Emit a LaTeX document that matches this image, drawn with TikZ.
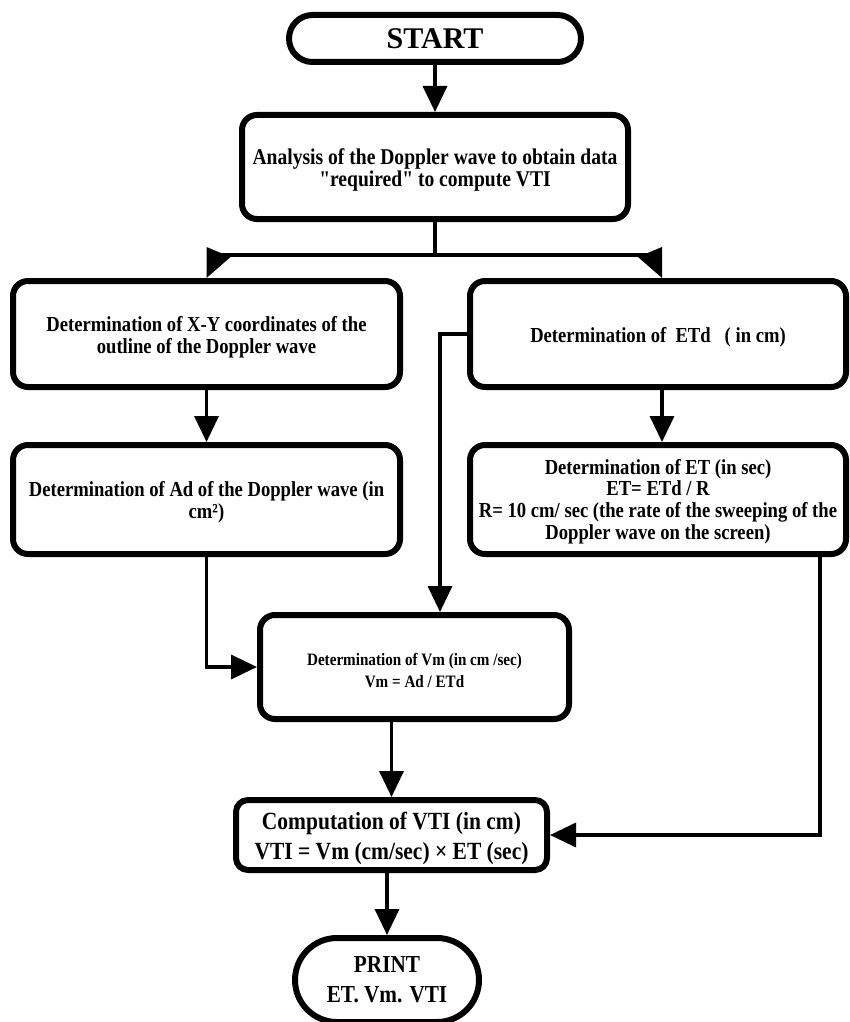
\documentclass[tikz,border=0pt]{standalone}
\usepackage{fontspec}
\setmainfont{Liberation Serif}[FakeStretch=0.87, Ligatures=TeXOff]
\newfontfamily\widefont{Liberation Serif}
\usetikzlibrary{arrows.meta}
\tikzset{
  box/.style={draw, line width=6pt, rounded corners=15pt, inner sep=0pt},
  term/.style={draw, line width=6pt, inner sep=0pt, align=center},
  lbl/.style={align=center, inner sep=0pt, yshift=-3pt},
  conn/.style={line width=3.5pt},
  arr/.style={line width=3.5pt, -{Triangle[length=26pt,width=24pt]}},
}
\begin{document}
\begin{tikzpicture}[x=1pt,y=-1pt]
\useasboundingbox (0,0) rectangle (849,1022);
\node[term, rounded corners=23.5pt, minimum width=292pt, minimum height=47pt,
  font={\widefont\bfseries\fontsize{30}{30}\selectfont}] (start) at (435,38.5) {START};
\node[box, minimum width=386pt, minimum height=104pt,
  label={[lbl, font={\bfseries\fontsize{22.5}{22}\selectfont}]center:{Analysis of the Doppler wave to obtain data\\ "required" to compute VTI}}] (analysis) at (435,167) {};
\node[box, minimum width=387pt, minimum height=106pt,
  label={[lbl, font={\bfseries\fontsize{21.4}{22}\selectfont}]center:{Determination of X-Y coordinates of the\\ outline of the Doppler wave}}] (xy) at (206.5,334) {};
\node[box, minimum width=387pt, minimum height=109pt,
  label={[lbl, font={\bfseries\fontsize{21.4}{22}\selectfont}]center:{Determination of Ad of the Doppler wave (in\\ cm²)}}] (ad) at (206.5,499.5) {};
\node[box, minimum width=376pt, minimum height=106pt,
  label={[lbl, font={\bfseries\fontsize{21.4}{22}\selectfont}]center:{Determination of\ \ ETd\ \ \ ( in cm)}}] (etd) at (658,334) {};
\node[box, minimum width=376pt, minimum height=109pt,
  label={[lbl, yshift=1pt, font={\bfseries\fontsize{21.4}{21.7}\selectfont}]center:{Determination of ET (in sec)\\ ET= ETd / R\\ R= 10 cm/ sec (the rate of the sweeping of the\\ Doppler wave on the screen)}}] (et) at (658,499.5) {};
\node[box, minimum width=309pt, minimum height=104pt,
  label={[lbl, font={\bfseries\fontsize{17.4}{22}\selectfont}]center:{Determination of Vm (in cm /sec)\\ Vm = Ad / ETd}}] (vm) at (414.5,667) {};
\node[box, rounded corners=12pt, minimum width=311pt, minimum height=70pt,
  label={[lbl, font={\bfseries\fontsize{24.7}{30}\selectfont}]center:{Computation of VTI (in cm)\\ VTI = Vm (cm/sec) × ET (sec)}}] (comp) at (391.5,835) {};
\node[term, rounded corners=42pt, minimum width=184pt, minimum height=84pt,
  font={\bfseries\fontsize{24.4}{30}\selectfont}] (print) at (387,980)
  {PRINT\\ ET. Vm. VTI};
% connectors
\draw[arr] (start) -- (analysis);
\coordinate (j) at (435,255);
\coordinate (r) at ([xshift=4pt]etd.north);
\draw[conn] (analysis.south) -- (j);
\draw[conn] (j -| xy.north) -- (j -| r);
\fill ([yshift=31pt]xy.north) -- ++(24pt,-10pt) -- (xy.north) -- cycle;
\fill ([yshift=31pt]r) -- ++(-24pt,-10pt) -- (r) -- cycle;
\draw[arr] (xy) -- (ad);
\draw[arr] ([xshift=4pt]etd.south) -- ([xshift=4pt]et.north);
\draw[arr] (ad.south) |- (vm.west);
\draw[arr] (etd.west) -| ([xshift=25.5pt]vm.north);
\draw[arr] ([xshift=162pt]et.south) |- (comp.east);
\draw[arr] (vm.south -| comp.north) -- (comp.north);
\draw[arr] (comp.south -| print.north) -- (print.north);
\end{tikzpicture}
\end{document}
